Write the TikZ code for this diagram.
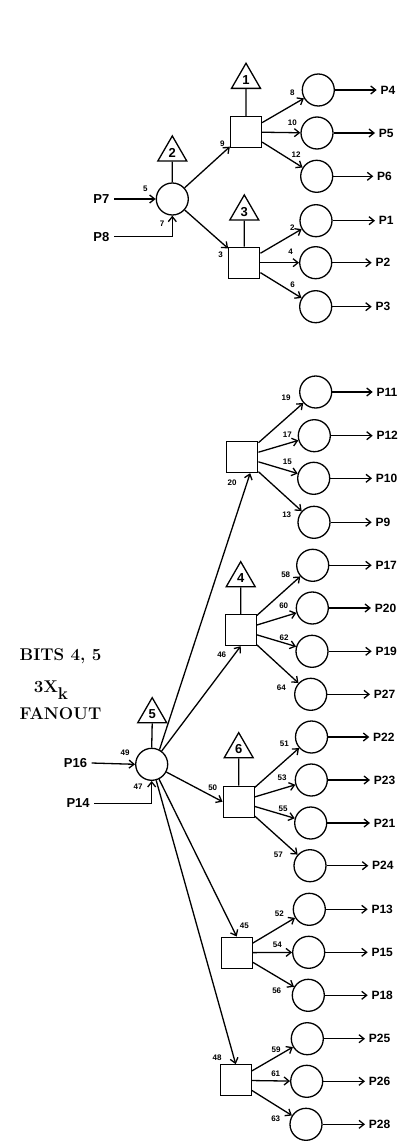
\documentclass[tikz,border=0pt]{standalone}
\usepackage{fontspec}
\usetikzlibrary{shapes.geometric,arrows.meta}
\newfontfamily\plainfont{Liberation Sans}
\tikzset{
  gate/.style={draw,circle,minimum size=32pt,inner sep=0pt},
  box/.style={draw,rectangle,minimum size=31pt,inner sep=0pt},
  tri/.style={draw,regular polygon,regular polygon sides=3,minimum size=33.5pt,inner sep=0pt,font=\plainfont\bfseries\fontsize{13}{14}\selectfont},
  plab/.style={anchor=west,inner sep=3.2pt,font=\plainfont\bfseries\fontsize{12}{13}\selectfont},
  inlab/.style={anchor=east,inner sep=4pt,font=\plainfont\bfseries\fontsize{13}{14}\selectfont},
  numlab/.style={inner sep=0pt,font=\plainfont\bfseries\fontsize{8}{9}\selectfont},
  titlelab/.style={anchor=west,inner sep=0pt,font=\bfseries\fontsize{17}{18}\selectfont}
}
\begin{document}
\begin{tikzpicture}[x=1pt,y=-1pt,>={Straight Barb[length=5pt,width=8pt,line width=1.3pt]},line width=1.3pt]
  \useasboundingbox (0,0) rectangle (398,1142);
  % upper group
  \node[gate] (c2) at (172.3,199) {};
  \node[box] (s1) at (246,132) {};
  \node[box] (s3) at (244.3,262.7) {};
  \node[tri] (t1) at (246,80) {1};
  \node[tri] (t2) at (172.3,152.7) {2};
  \node[tri] (t3) at (244.3,211.7) {3};
  \node[gate] (c4) at (318.3,90) {};
  \node[gate] (c5) at (317,133) {};
  \node[gate] (c6) at (316.7,176.3) {};
  \node[gate] (c1) at (316,220.7) {};
  \node[gate] (cb2) at (315.7,262.7) {};
  \node[gate] (c3) at (315.7,306.7) {};
  \node[plab] (p4) at (376.7,90) {P4};
  \node[plab] (p5) at (375,133) {P5};
  \node[plab] (p6) at (373.3,176.3) {P6};
  \node[plab] (p1) at (375,220.7) {P1};
  \node[plab] (p2) at (371.7,262.7) {P2};
  \node[plab] (p3) at (371.7,306.7) {P3};
  \node[inlab] (p7) at (114,199) {P7};
  \node[inlab] (p8) at (114,236.7) {P8};
  \draw (t1.south)--(s1.north);
  \draw (t2.south)--(c2.north);
  \draw (t3.south)--(s3.north);
  \draw[->] (p7.east)--(c2.west);
  \draw[->] (p8.east)-|(c2.south);
  \draw[->] (c2)--(s1);
  \draw[->] (c2)--(s3);
  \draw[->] (s1)--(c4);
  \draw[->] (s1)--(c5);
  \draw[->] (s1)--(c6);
  \draw[->] (s3)--(c1);
  \draw[->] (s3)--(cb2);
  \draw[->] (s3)--(c3);
  \draw[->] (c4)--(p4.west);
  \draw[->] (c5)--(p5.west);
  \draw[->] (c6)--(p6.west);
  \draw[->] (c1)--(p1.west);
  \draw[->] (cb2)--(p2.west);
  \draw[->] (c3)--(p3.west);
  \node[numlab] (n8) at (292.3,92.3) {8};
  \node[numlab] (n10) at (292.3,122.7) {10};
  \node[numlab] (n12) at (296,154.3) {12};
  \node[numlab] (n2) at (292.3,227.7) {2};
  \node[numlab] (n4) at (290.7,252) {4};
  \node[numlab] (n6) at (292.7,284.3) {6};
  \node[numlab] (n9) at (222.3,144) {9};
  \node[numlab] (n3) at (220.7,254.3) {3};
  \node[numlab] (n5) at (145.3,188.7) {5};
  \node[numlab] (n7) at (162,223.3) {7};
  % lower group
  \node[titlelab] (bits) at (19,656.7) {BITS 4, 5};
  \node[titlelab,anchor=base west] (xk) at (33.3,692.5) {3X\raisebox{-7pt}{k}};
  \node[titlelab] (fan) at (19,714) {FANOUT};
  \node[gate] (c50) at (151.7,764.3) {};
  \node[tri] (t5) at (152.2,714.4) {5};
  \node[inlab] (p16) at (91.7,763) {P16};
  \node[inlab] (p14) at (94.3,803.5) {P14};
  \node[box] (s20) at (242.3,457) {};
  \node[box] (s46) at (240.7,630) {};
  \node[box] (s60) at (238.7,801.7) {};
  \node[box] (s45) at (236.7,952.7) {};
  \node[box] (s48) at (235.7,1080.3) {};
  \node[tri] (t4) at (240.7,578.4) {4};
  \node[tri] (t6) at (238.7,749.4) {6};
  \node[gate] (c11) at (315.7,392) {};
  \node[gate] (c12) at (314.3,435.7) {};
  \node[gate] (c10) at (313.7,478.3) {};
  \node[gate] (c9) at (314,522.3) {};
  \node[gate] (c17) at (312.7,565.3) {};
  \node[gate] (c20) at (312.3,608) {};
  \node[gate] (c19) at (312,651.3) {};
  \node[gate] (c27) at (310.7,694.3) {};
  \node[gate] (c22) at (311.5,737) {};
  \node[gate] (c23) at (311.3,780) {};
  \node[gate] (c21) at (310.7,823) {};
  \node[gate] (c24) at (310,865.7) {};
  \node[gate] (c13) at (309.3,909.3) {};
  \node[gate] (c15) at (308.7,952.3) {};
  \node[gate] (c18) at (308.3,995.3) {};
  \node[gate] (c25) at (307.3,1038.7) {};
  \node[gate] (c26) at (306.7,1081.3) {};
  \node[gate] (c28) at (306,1124.3) {};
  \node[plab] (p11) at (372.7,392) {P11};
  \node[plab] (p12) at (372.7,435.7) {P12};
  \node[plab] (p10) at (372,478.3) {P10};
  \node[plab] (p9) at (371.7,522.3) {P9};
  \node[plab] (p17) at (371.7,565.3) {P17};
  \node[plab] (p20) at (371,608) {P20};
  \node[plab] (p19) at (371.7,651.3) {P19};
  \node[plab] (p27) at (370,694.3) {P27};
  \node[plab] (p22) at (369.3,737) {P22};
  \node[plab] (p23) at (370,780) {P23};
  \node[plab] (p21) at (370,823) {P21};
  \node[plab] (p24) at (368.3,865.7) {P24};
  \node[plab] (p13) at (367.7,909.3) {P13};
  \node[plab] (p15) at (367.7,952.3) {P15};
  \node[plab] (p18) at (367.7,995.3) {P18};
  \node[plab] (p25) at (365,1038.7) {P25};
  \node[plab] (p26) at (365,1081.3) {P26};
  \node[plab] (p28) at (365,1124.3) {P28};
  \draw (t5.south)--(c50.north);
  \draw (t4.south)--(s46.north);
  \draw (t6.south)--(s60.north);
  \draw[->] (p16.east)--(c50.west);
  \draw[->] (p14.east)-|(c50.south);
  \draw[->] (c50.62)--(s20.-64);
  \draw[->] (c50)--(s46.south);
  \draw[->] (c50)--(s60.west);
  \draw[->] (c50)--(s45.north);
  \draw[->] (c50)--(s48.north);
  \draw[->] (s20)--(c11);
  \draw[->] (s20)--(c12);
  \draw[->] (s20)--(c10);
  \draw[->] (s20)--(c9);
  \draw[->] (s46)--(c17);
  \draw[->] (s46)--(c20);
  \draw[->] (s46)--(c19);
  \draw[->] (s46)--(c27);
  \draw[->] (s60)--(c22);
  \draw[->] (s60)--(c23);
  \draw[->] (s60)--(c21);
  \draw[->] (s60)--(c24);
  \draw[->] (s45)--(c13);
  \draw[->] (s45)--(c15);
  \draw[->] (s45)--(c18);
  \draw[->] (s48)--(c25);
  \draw[->] (s48)--(c26);
  \draw[->] (s48)--(c28);
  \draw[->] (c11)--(p11.west);
  \draw[->] (c12)--(p12.west);
  \draw[->] (c10)--(p10.west);
  \draw[->] (c9)--(p9.west);
  \draw[->] (c17)--(p17.west);
  \draw[->] (c20)--(p20.west);
  \draw[->] (c19)--(p19.west);
  \draw[->] (c27)--(p27.west);
  \draw[->] (c22)--(p22.west);
  \draw[->] (c23)--(p23.west);
  \draw[->] (c21)--(p21.west);
  \draw[->] (c24)--(p24.west);
  \draw[->] (c13)--(p13.west);
  \draw[->] (c15)--(p15.west);
  \draw[->] (c18)--(p18.west);
  \draw[->] (c25)--(p25.west);
  \draw[->] (c26)--(p26.west);
  \draw[->] (c28)--(p28.west);
  \node[numlab] (n19) at (286,397.7) {19};
  \node[numlab] (n17) at (287.3,434.3) {17};
  \node[numlab] (n15) at (287.3,462) {15};
  \node[numlab] (n13) at (286.7,515) {13};
  \node[numlab] (n20) at (232,482.3) {20};
  \node[numlab] (n58) at (285.7,574.3) {58};
  \node[numlab] (n60) at (283.7,605.7) {60};
  \node[numlab] (n62) at (284,637.3) {62};
  \node[numlab] (n64) at (281.3,687.3) {64};
  \node[numlab] (n46) at (221.7,655) {46};
  \node[numlab] (n49) at (125,752.7) {49};
  \node[numlab] (n47) at (138,786.7) {47};
  \node[numlab] (n50) at (212.7,788) {50};
  \node[numlab] (n51) at (284.3,744) {51};
  \node[numlab] (n53) at (282,778) {53};
  \node[numlab] (n55) at (283,808.3) {55};
  \node[numlab] (n57) at (278.3,855) {57};
  \node[numlab] (n45) at (244.3,926) {45};
  \node[numlab] (n52) at (279.3,913.7) {52};
  \node[numlab] (n54) at (277.3,944.3) {54};
  \node[numlab] (n56) at (276.7,990.7) {56};
  \node[numlab] (n48) at (217,1057.7) {48};
  \node[numlab] (n59) at (276,1049.3) {59};
  \node[numlab] (n61) at (275.7,1074) {61};
  \node[numlab] (n63) at (275.7,1118.3) {63};
\end{tikzpicture}
\end{document}
